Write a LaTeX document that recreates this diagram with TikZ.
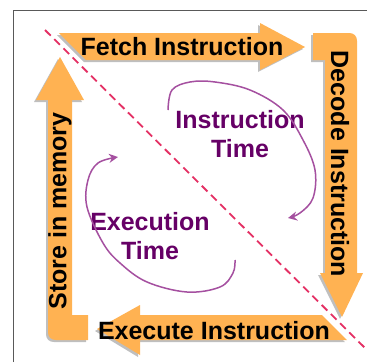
\documentclass[tikz,border=0pt]{standalone}
\usepackage{fontspec}
\setmainfont{Liberation Sans}
\usetikzlibrary{arrows.meta,shadows}
\definecolor{arroworange}{RGB}{255,178,82}
\definecolor{timepurple}{RGB}{102,0,102}
\definecolor{loopurple}{RGB}{165,80,160}
\definecolor{dashred}{RGB}{228,48,100}
\tikzset{
  band/.style={fill=arroworange,
    drop shadow={shadow xshift=-2pt,shadow yshift=-2pt,fill=black,opacity=0.25}},
  steplabel/.style={font=\fontsize{25}{30}\selectfont\bfseries,text=black,inner sep=0pt},
  timelabel/.style={font=\fontsize{25}{29}\selectfont\bfseries,text=timepurple,
    align=center,inner sep=0pt},
  timeloop/.style={draw=loopurple,line width=1.5pt,-{Stealth[length=9pt,width=9pt]}}
}

\begin{document}
\begin{tikzpicture}[x=1pt,y=-1pt]
  \fill[white] (0,0) rectangle (367,362);
  \useasboundingbox (0,0) rectangle (367,362);
  \draw[gray!70!black,line width=1pt] (13,362) -- (13,10) -- (367,10);
  \fill[band] (59,33) -- (260,33) -- (260,23) -- (305,47) -- (260,70) -- (260,60) -- (86,60) -- cycle;
  \fill[band] (313,33) -- (349,33) .. controls (354,33) and (357,36) .. (357,41) -- (357,273)
    -- (363,273) -- (342,317) -- (320,273) -- (325,273) -- (325,60) -- (313,60) -- cycle;
  \fill[band] (347,340) -- (140,340) -- (140,355) -- (97,329) -- (140,305) -- (140,315) -- (322,315) -- cycle;
  \fill[band] (88,340) -- (56,340) .. controls (51,340) and (48,337) .. (48,332) -- (48,100)
    -- (36,100) -- (60,57) -- (84,100) -- (72,100) -- (72,315) -- (88,315) -- cycle;
  \draw[dashred,line width=1.8pt,dash pattern=on 8pt off 5pt] (45,30) -- (365,348);
  \node[steplabel,anchor=base] (fetch) at (182,55) {Fetch Instruction};
  \node[steplabel,rotate=-90] (decode) at (340,164) {Decode Instruction};
  \node[steplabel,anchor=base] (execute) at (214,339) {Execute Instruction};
  \node[steplabel,rotate=90] (store) at (60,211) {Store in memory};
  \node[timelabel] (instime) at (240,134) {Instruction\\Time};
  \node[timelabel] (exetime) at (150,236) {Execution\\Time};
  \draw[timeloop] plot[smooth,tension=0.6] coordinates {(168,110) (172,90) (190,82) (215,82)
    (250,90) (283,110) (303,140) (315,170) (313,198) (300,213) (288,218)};
  \draw[timeloop] plot[smooth,tension=0.6] coordinates {(235,260) (233,273) (220,287) (187,292)
    (147,282) (120,263) (103,243) (87,207) (88,180) (98,163) (118,157)};
\end{tikzpicture}
\end{document}
